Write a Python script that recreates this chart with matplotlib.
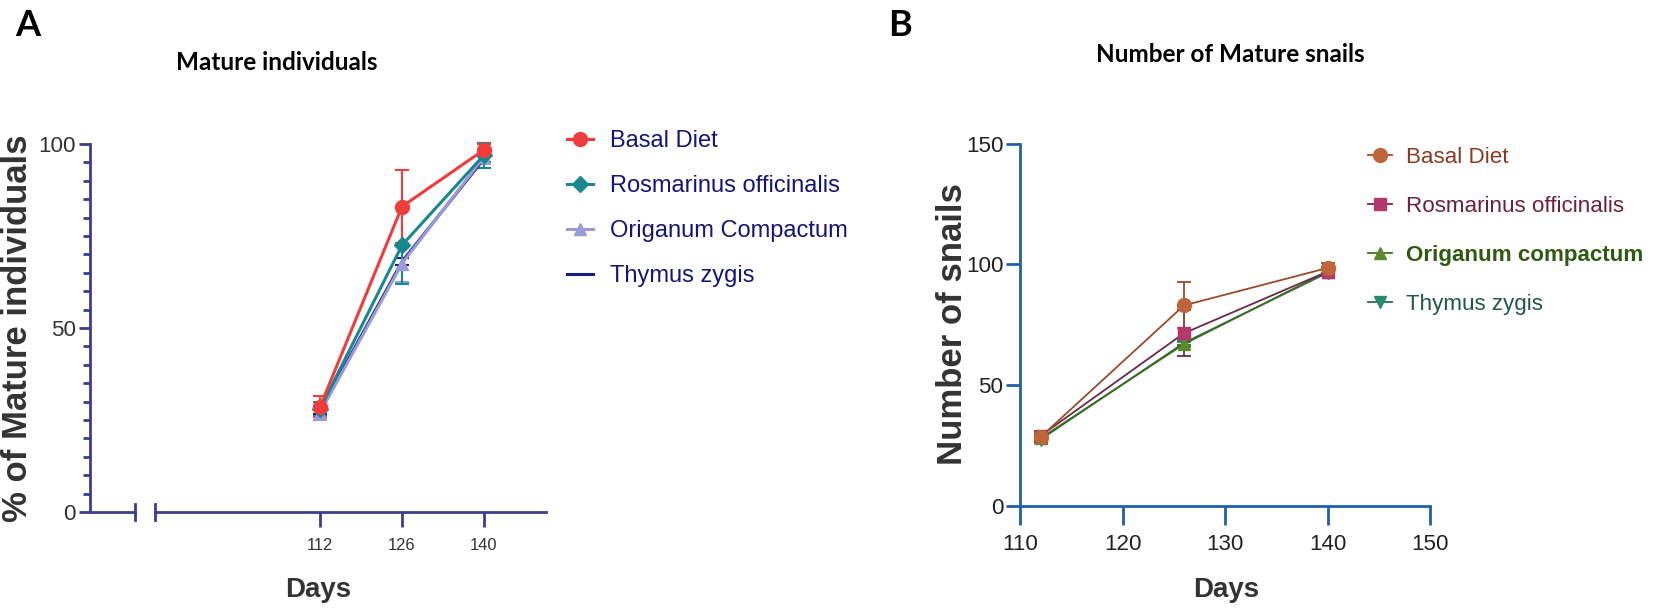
import matplotlib
matplotlib.use("Agg")
import matplotlib.pyplot as plt
from matplotlib.lines import Line2D
from matplotlib import font_manager as fm

# ---------------- data ----------------
days = [112, 126, 140]
series_names_A = ["Basal Diet", "Rosmarinus officinalis", "Origanum Compactum", "Thymus zygis"]
series_names_B = ["Basal Diet", "Rosmarinus officinalis", "Origanum compactum", "Thymus zygis"]

A_basal = [28.6, 83.0, 98.4]
A_basal_err = [2.8, 10.0, 1.5]
A_rosm = [28.0, 72.5, 97.0]
A_rosm_err = [2.0, 10.5, 3.4]
A_orig = [27.0, 67.5, 96.5]
A_orig_err = [2.0, 5.0, 2.0]
A_thym = [27.5, 68.0, 96.0]
A_thym_err = [1.0, 1.0, 1.0]

B_basal = [28.5, 83.0, 98.5]
B_basal_err = [2.0, 9.5, 2.0]
B_rosm = [29.0, 71.5, 97.0]
B_rosm_err = [2.0, 9.5, 2.0]
B_orig = [28.0, 67.0, 97.0]
B_orig_err = [2.0, 1.0, 1.0]
B_thym = [27.5, 67.5, 96.5]
B_thym_err = [1.0, 1.0, 1.0]

A_yticks = [0, 50, 100]
A_xticks = [112, 126, 140]
B_yticks = [0, 50, 100, 150]
B_xticks = [110, 120, 130, 140, 150]

# ---------------- fonts ----------------
avail = {f.name for f in fm.fontManager.ttflist}
narrow = "Liberation Sans Narrow" if "Liberation Sans Narrow" in avail else "Liberation Sans"
nscale = 1.0 if narrow == "Liberation Sans Narrow" else 0.85
title_font = "Lato" if "Lato" in avail else "DejaVu Sans"

W, H = 1654, 615
fig = plt.figure(figsize=(W / 100, H / 100), dpi=100)

def fx(px):
    return px / W

def fy(py):
    return 1 - py / H

# ---------------- Panel A ----------------
acolA = "#3d3d8f"
y0A, y100A = 512, 144
axL = fig.add_axes([fx(90), fy(y0A), fx(135 - 90), fy(y100A) - fy(y0A)])
axA = fig.add_axes([fx(155), fy(y0A), fx(546 - 155), fy(y100A) - fy(y0A)])
for ax in (axL, axA):
    ax.set_ylim(0, 100)
    ax.patch.set_alpha(0)
    for s in ("top", "right"):
        ax.spines[s].set_visible(False)
    ax.spines["bottom"].set_color(acolA)
    ax.spines["bottom"].set_linewidth(2)
axA.spines["left"].set_visible(False)
axA.set_yticks([])
axL.spines["left"].set_color(acolA)
axL.spines["left"].set_linewidth(2)
axL.set_xticks([])
axL.set_xlim(0, 1)
axL.set_yticks(A_yticks)
axL.set_yticks(range(0, 101, 5), minor=True)
axL.tick_params(axis="y", which="major", length=8, width=2, color=acolA,
                labelsize=19 * nscale, labelcolor="#333333", pad=2)
axL.tick_params(axis="y", which="minor", length=5, width=2, color=acolA)
for lab in axL.get_yticklabels():
    lab.set_fontfamily(narrow)
# break marks
axL.plot([1, 1], [-0.022, 0.022], transform=axL.transAxes, color=acolA, lw=2, clip_on=False)
axA.plot([0, 0], [-0.022, 0.022], transform=axA.transAxes, color=acolA, lw=2, clip_on=False)

axA.set_xlim(83.8, 150.6)
axA.set_xticks(A_xticks)
axA.set_xticklabels([str(d) for d in A_xticks], fontfamily=narrow)
axA.tick_params(axis="x", length=11, width=2, color=acolA, labelsize=14 * nscale,
                labelcolor="#333333", pad=8)

stylesA = [
    dict(color="#f23c3c", marker="o", ms=10, lw=2.2),
    dict(color="#17888f", marker="D", ms=8, lw=2.2),
    dict(color="#9a9ad8", marker="^", ms=9, lw=2.2),
    dict(color="#1c1c84", marker="", ms=0, lw=2.2),
]
dataA = [(A_thym, A_thym_err), (A_orig, A_orig_err), (A_rosm, A_rosm_err), (A_basal, A_basal_err)]
for (vals, err), st in zip(dataA, stylesA[::-1]):
    axA.errorbar(days, vals, yerr=err, color=st["color"], marker=st["marker"] or None,
                 ms=st["ms"], lw=st["lw"], elinewidth=1.5, capsize=5, capthick=1.5,
                 clip_on=False, zorder=3)

handlesA = [Line2D([], [], color=st["color"], marker=st["marker"] or None, ms=st["ms"],
                   lw=st["lw"]) for st in stylesA]
legA = fig.legend(handlesA, series_names_A, loc="upper left",
                  bbox_to_anchor=(fx(567), fy(130)), frameon=False, borderpad=0,
                  borderaxespad=0, handlelength=1.1, handletextpad=0.7,
                  labelspacing=0.98, prop=dict(family=narrow, size=20 * nscale))
for t in legA.get_texts():
    t.set_color("#14147a")

fig.text(fx(18), fy(328), "% of Mature individuals", rotation=90, ha="center", va="center",
         fontsize=25, fontweight="bold", color="#333333", family="Liberation Sans")
fig.text(fx(318), fy(590), "Days", ha="center", va="center", fontsize=20,
         fontweight="bold", color="#333333", family="Liberation Sans")
fig.text(fx(277), fy(62), "Mature individuals", ha="center", va="center", fontsize=17.5,
         fontweight="bold", color="black", family=title_font)
fig.text(fx(28), fy(26), "A", ha="center", va="center", fontsize=26,
         fontweight="bold", color="black", family=title_font)

# ---------------- Panel B ----------------
acolB = "#2060a8"
y0B, y150B = 506, 143.5
axB = fig.add_axes([fx(1020), fy(y0B), fx(1430 - 1020), fy(y150B) - fy(y0B)])
axB.patch.set_alpha(0)
axB.set_xlim(110, 150)
axB.set_ylim(0, 150)
for s in ("top", "right"):
    axB.spines[s].set_visible(False)
for s in ("left", "bottom"):
    axB.spines[s].set_color(acolB)
    axB.spines[s].set_linewidth(2)
axB.set_xticks(B_xticks)
axB.set_yticks(B_yticks)
axB.set_xticklabels([str(v) for v in B_xticks], fontfamily=narrow)
axB.set_yticklabels([str(v) for v in B_yticks], fontfamily=narrow)
axB.tick_params(axis="x", length=14, width=2, color=acolB, labelsize=19 * nscale,
                labelcolor="#222222", pad=6)
axB.tick_params(axis="y", length=10, width=2, color=acolB, labelsize=19 * nscale,
                labelcolor="#222222", pad=2)

stylesB = [
    dict(mcolor="#c0643a", lcolor="#9a4a2a", marker="o", ms=10),
    dict(mcolor="#b4386c", lcolor="#6a2a4a", marker="s", ms=9),
    dict(mcolor="#5b8a2a", lcolor="#3f6f1a", marker="^", ms=8),
    dict(mcolor="#2a8a70", lcolor="#2a6a50", marker="v", ms=8),
]
dataB = [(B_thym, B_thym_err), (B_orig, B_orig_err), (B_rosm, B_rosm_err), (B_basal, B_basal_err)]
for (vals, err), st in zip(dataB, stylesB[::-1]):
    axB.errorbar(days, vals, yerr=err, color=st["lcolor"], marker=st["marker"],
                 mfc=st["mcolor"], mec=st["mcolor"], ms=st["ms"], lw=1.3,
                 elinewidth=1.3, capsize=5, capthick=1.3, ecolor=st["lcolor"],
                 clip_on=False, zorder=3)

handlesB = [Line2D([], [], color=st["lcolor"], marker=st["marker"], mfc=st["mcolor"],
                   mec=st["mcolor"], ms=st["ms"], lw=1.3) for st in stylesB]
legB = fig.legend(handlesB, series_names_B, loc="upper left",
                  bbox_to_anchor=(fx(1368), fy(147)), frameon=False, borderpad=0,
                  borderaxespad=0, handlelength=1.05, handletextpad=0.65,
                  labelspacing=1.25, prop=dict(family=narrow, size=19 * nscale))
textcolsB = ["#8b3a22", "#6e1f3c", "#2f5a12", "#1f5a40"]
for t, c in zip(legB.get_texts(), textcolsB):
    t.set_color(c)
legB.get_texts()[2].set_fontweight("bold")

fig.text(fx(952), fy(324), "Number of snails", rotation=90, ha="center", va="center",
         fontsize=25, fontweight="bold", color="#333333", family="Liberation Sans")
fig.text(fx(1226), fy(590), "Days", ha="center", va="center", fontsize=20,
         fontweight="bold", color="#333333", family="Liberation Sans")
fig.text(fx(1230), fy(55), "Number of Mature snails", ha="center", va="center", fontsize=17.5,
         fontweight="bold", color="black", family=title_font)
fig.text(fx(900), fy(26), "B", ha="center", va="center", fontsize=26,
         fontweight="bold", color="black", family=title_font)

fig.savefig("out.png", dpi=100)
